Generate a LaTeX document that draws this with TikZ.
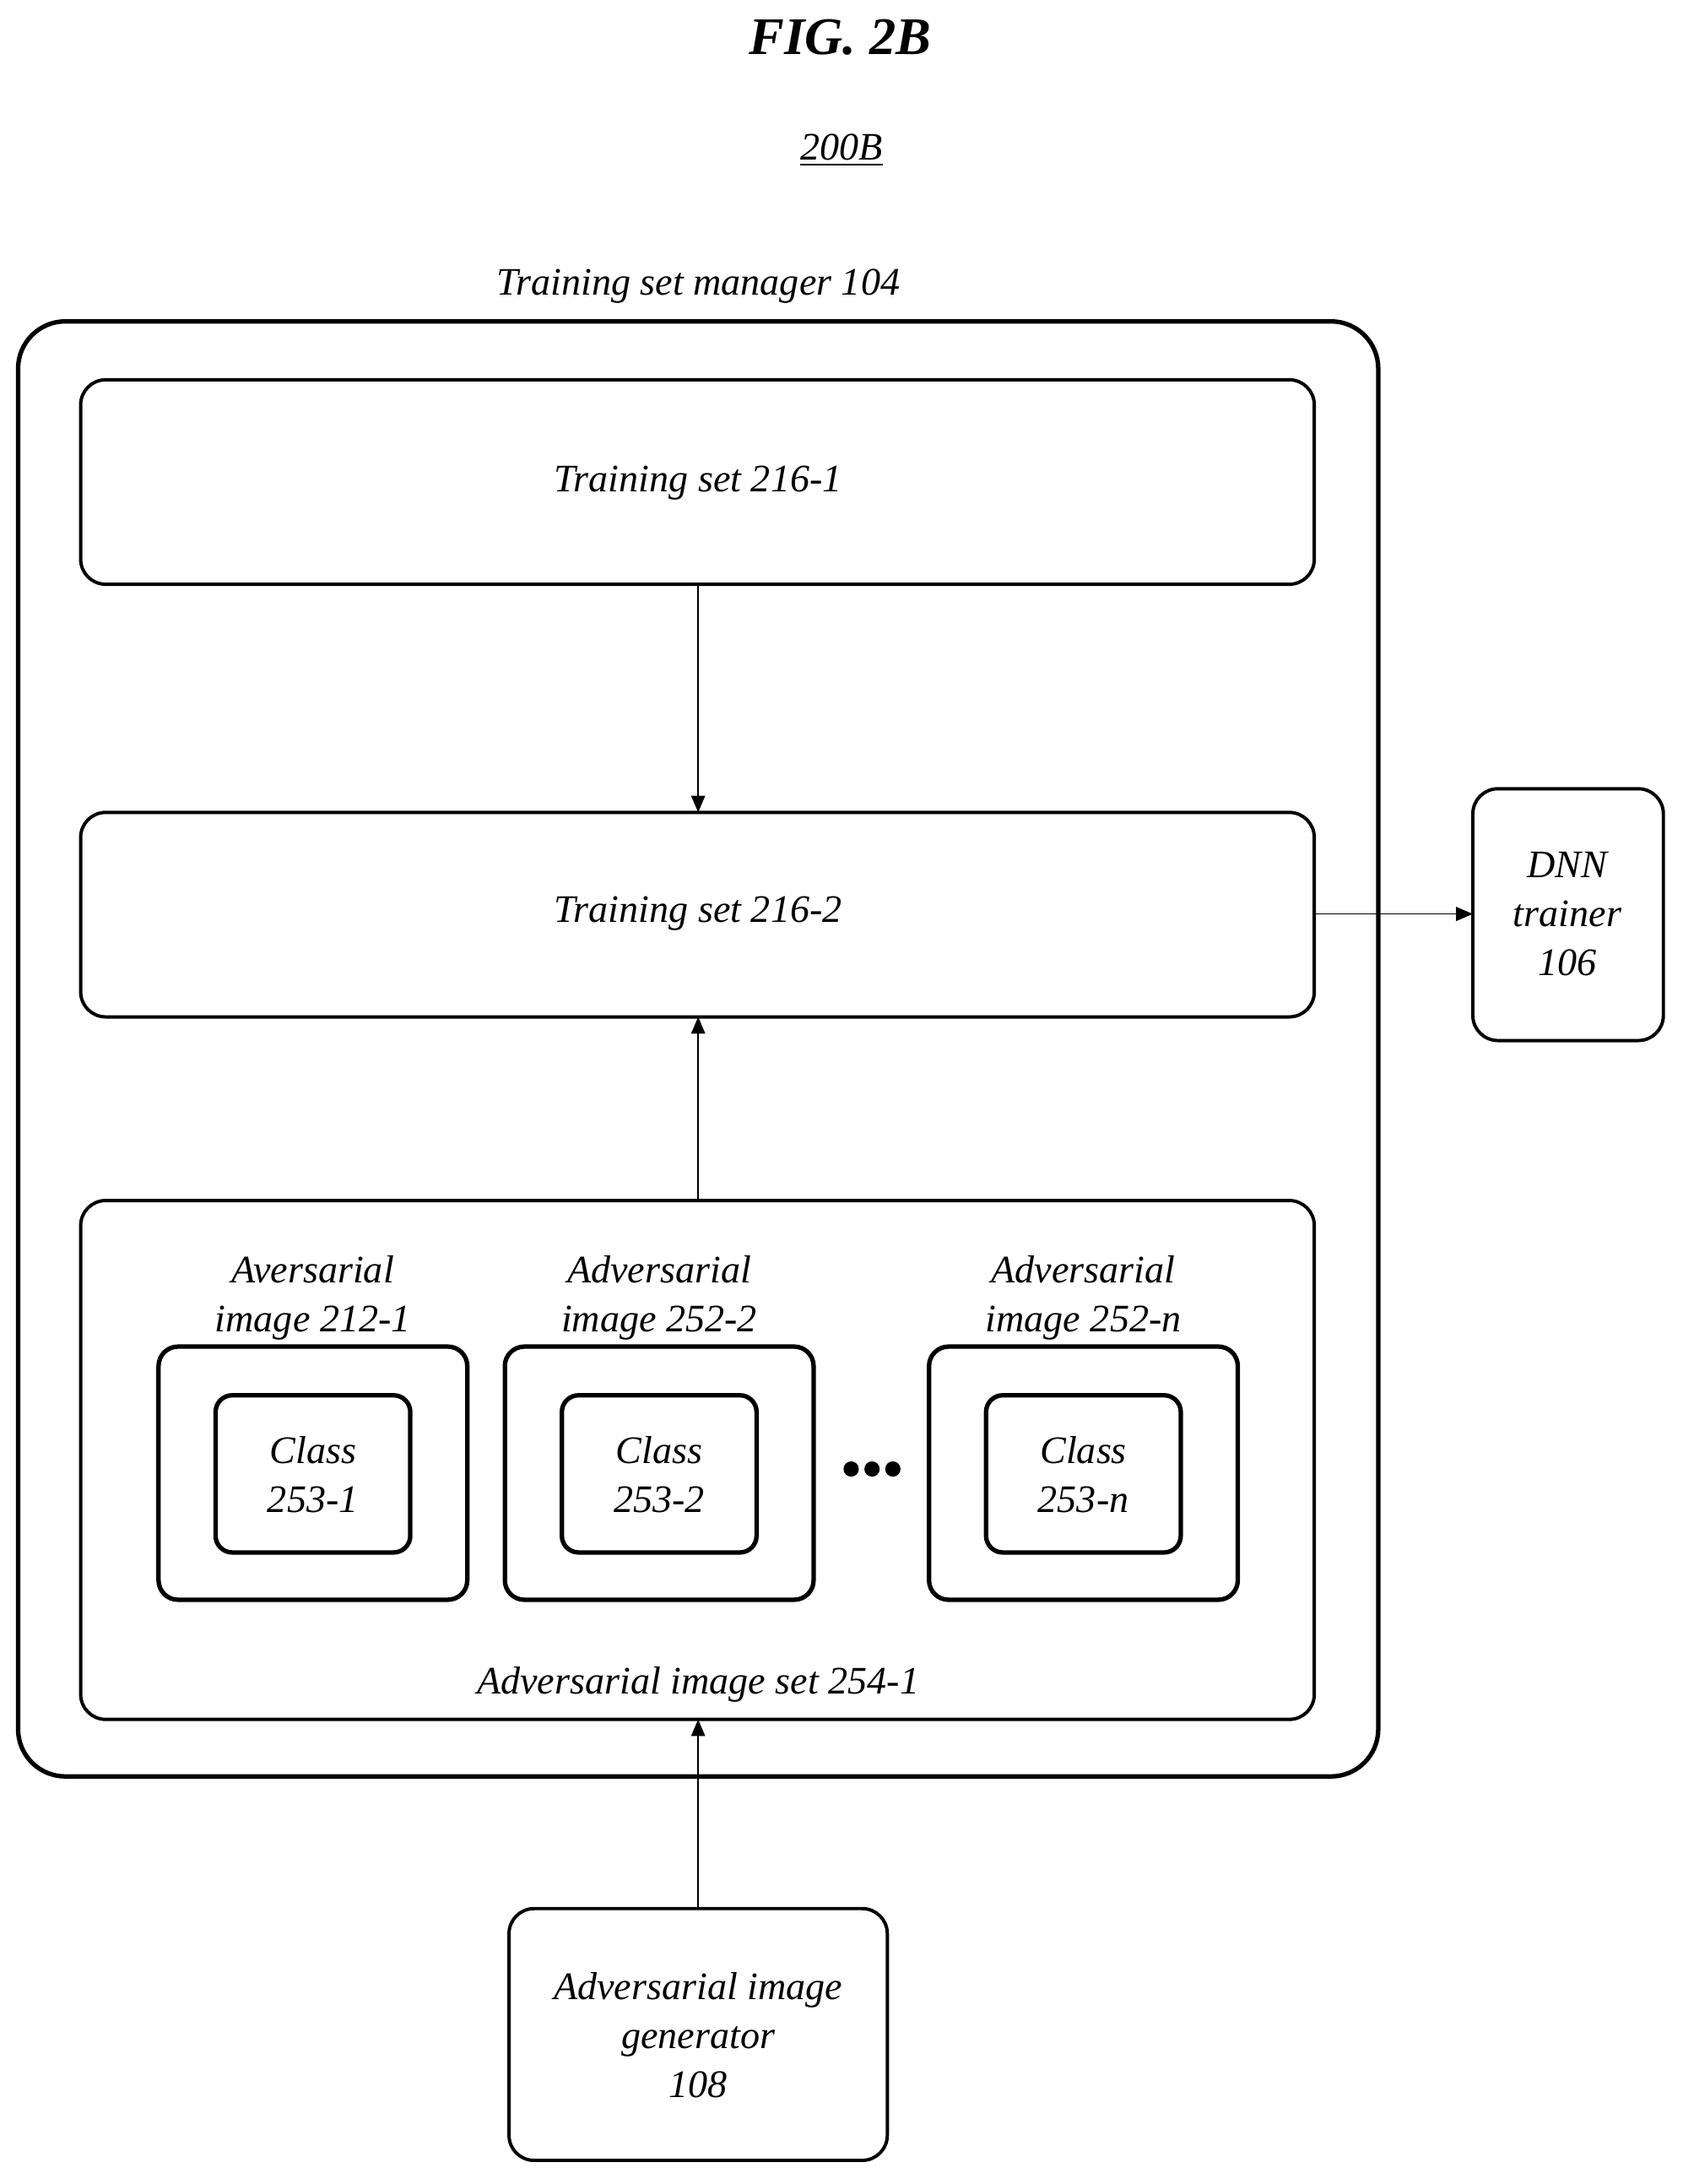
\documentclass[tikz,border=0pt]{standalone}
\usepackage{fontspec}
\setmainfont{Liberation Serif}
\usetikzlibrary{arrows.meta}
\begin{document}
\begin{tikzpicture}[x=0.5pt,y=-0.5pt,
  box/.style={draw,line width=1.2pt,rounded corners=9pt},
  thick box/.style={draw,line width=1.6pt,rounded corners=7pt},
  lbl/.style={font=\fontsize{14}{17.5}\selectfont\itshape,align=center},
  arr/.style={-{Triangle[length=6pt,width=5pt]},line width=0.5pt}]
\useasboundingbox (0,0) rectangle (1210,1570);
\node[font=\fontsize{19}{22}\selectfont\bfseries\itshape] (fig) at (604,27) {FIG. 2B};
\node[lbl] (num) at (605,108) {\underline{200B}};
\node[lbl] (mgrl) at (502,206) {Training set manager 104};
\draw[box,rounded corners=17pt,line width=1.6pt] (13,231) rectangle (991,1277);
\draw[box] (58,273) rectangle (945,420); \node[lbl] (t1) at (502,347) {Training set 216-1};
\coordinate (t1b) at (502,420);
\draw[box] (58,584) rectangle (945,731); \node[lbl] (t2) at (502,657) {Training set 216-2};
\coordinate (t2t) at (502,584); \coordinate (t2b) at (502,731); \coordinate (t2r) at (945,657);
\draw[box] (58,863) rectangle (945,1236);
\coordinate (adt) at (502,863); \coordinate (adb) at (502,1236);
\node[lbl] (adl) at (502,1211) {Adversarial image set 254-1};
\foreach \x/\n/\a/\c in {225/1/Aversarial\\image 212-1/253-1, 474/2/Adversarial\\image 252-2/253-2, 779/3/Adversarial\\image 252-n/253-n}{
  \draw[thick box] (\x-111,968) rectangle (\x+111,1150);
  \draw[box,line width=1.6pt,rounded corners=6pt] (\x-70,1003) rectangle (\x+70,1116);
  \node[lbl] (il\n) at (\x,933) {\a};
  \node[lbl] (cl\n) at (\x,1060) {Class\\\c};
}
\foreach \x in {612,627,642} \fill (\x,1056) circle (5.5);
\draw[box] (1059,567) rectangle (1196,748);
\node[lbl] (dnn) at (1127,657) {DNN\\trainer\\106};
\coordinate (dnnl) at (1059,657);
\draw[box] (366,1372) rectangle (638,1553);
\node[lbl] (gen) at (502,1463) {Adversarial image\\generator\\108};
\coordinate (gent) at (502,1372);
\draw[arr] (t1b) -- (t2t);
\draw[arr] (adt) -- (t2b);
\draw[arr] (t2r) -- (dnnl);
\draw[arr] (gent) -- (adb);
\end{tikzpicture}
\end{document}
